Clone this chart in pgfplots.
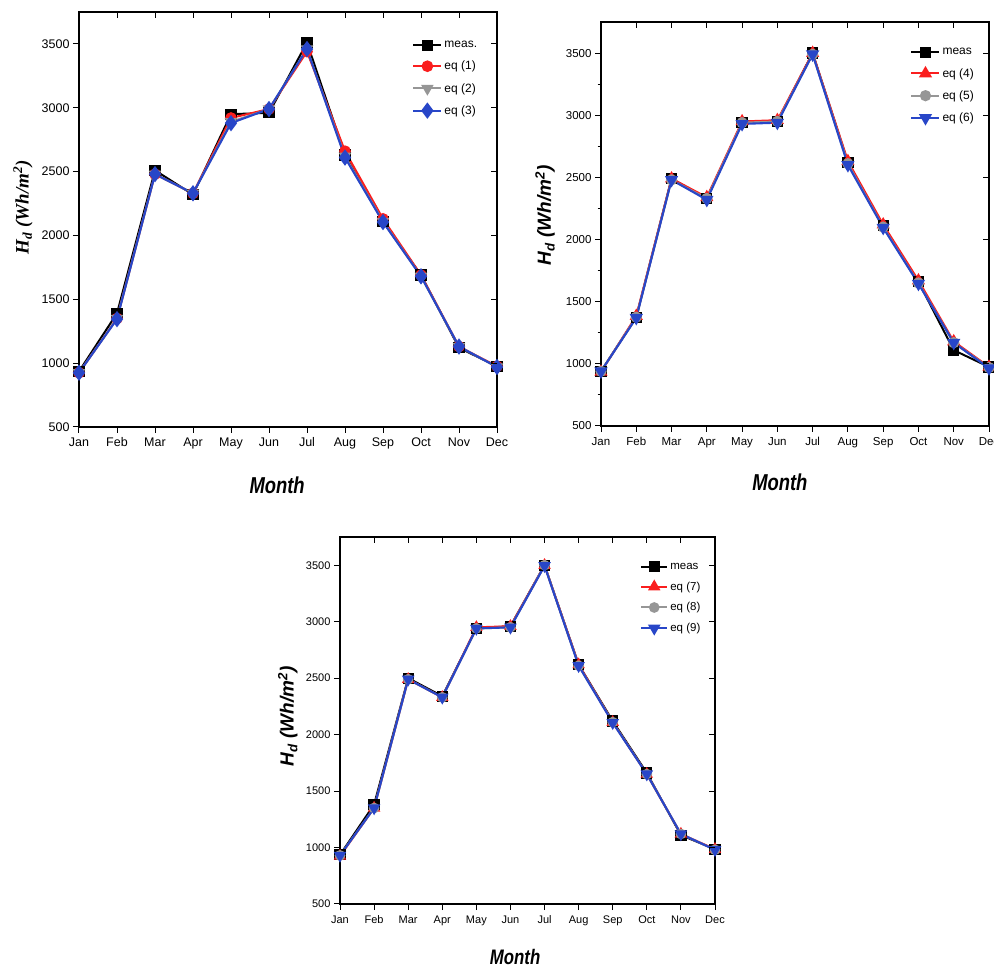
\documentclass[border=0pt]{standalone}
\usepackage{fontspec}
\setmainfont{Liberation Sans}
\newfontfamily\serifbi{Liberation Serif}
\newfontfamily\condsans[FakeStretch=0.8]{Liberation Sans}
\usepackage{pgfplots}
\pgfplotsset{compat=1.18}
\usepackage{pgfplotstable}
\definecolor{myred}{RGB}{250,30,30}
\definecolor{mygray}{RGB}{150,150,150}
\definecolor{myblue}{RGB}{40,70,200}

\pgfplotstableread{
m meas e1 e2 e3
0 935 925 925 925
1 1390 1350 1350 1345
2 2510 2480 2480 2480
3 2320 2330 2330 2330
4 2950 2920 2890 2880
5 2960 2990 2990 2990
6 3510 3440 3460 3460
7 2630 2660 2620 2610
8 2110 2130 2110 2105
9 1690 1690 1680 1680
10 1120 1130 1130 1130
11 975 975 970 970
}\tabA

\pgfplotstableread{
m meas e1 e2 e3
0 940 935 940 940
1 1375 1385 1375 1370
2 2490 2490 2480 2480
3 2330 2340 2330 2320
4 2940 2950 2940 2930
5 2950 2960 2950 2940
6 3500 3500 3490 3490
7 2620 2630 2610 2600
8 2110 2120 2100 2095
9 1660 1670 1650 1645
10 1110 1180 1170 1170
11 975 975 970 965
}\tabB

\pgfplotstableread{
m meas e1 e2 e3
0 935 925 930 930
1 1380 1350 1350 1350
2 2500 2490 2490 2490
3 2340 2330 2330 2330
4 2940 2950 2940 2940
5 2960 2960 2950 2950
6 3500 3500 3500 3495
7 2620 2620 2610 2610
8 2120 2110 2110 2105
9 1660 1650 1650 1650
10 1110 1120 1120 1120
11 985 985 980 980
}\tabC

\pgfplotsset{
  base/.style={
    scale only axis, anchor=south west,
    xmin=0, xmax=11, ymin=500, ymax=3750,
    xtick={0,...,11},
    xticklabels={Jan,Feb,Mar,Apr,May,Jun,Jul,Aug,Sep,Oct,Nov,Dec},
    ytick={500,1000,...,3500},
    /pgf/number format/assume math mode=true,
    /pgf/number format/1000 sep={},
    tick align=outside, tick pos=left,
    major tick length=6pt, minor tick length=3.5pt,
    axis line style={line width=1.1pt},
    major tick style={line width=1pt, black},
    minor tick style={line width=0.9pt, black},
    xticklabel style={anchor=north, text height=0.72em, text depth=0.22em, yshift=-3pt},
    clip=false,
    legend cell align=left,
    legend image code/.code={\draw[mark repeat=2,mark phase=2] plot coordinates {(0pt,0pt) (14pt,0pt) (28pt,0pt)};},
  },
  over/.style={
    scale only axis, anchor=south west,
    xmin=0, xmax=11, ymin=500, ymax=3750,
    xtick={0,...,11}, ytick={500,1000,...,3500},
    xticklabels={}, yticklabels={},
    tick align=inside, tick pos=right, major tick length=6pt,
    axis line style={draw=none},
    major tick style={line width=1pt, black},
  },
  smeas/.style={black, line width=2pt, mark=square*, mark size=4.6pt, mark options={solid}},
  sred/.style={myred, line width=2pt, mark options={solid}},
  sgray/.style={mygray, line width=2pt, mark options={solid}},
  sblue/.style={myblue, line width=2.1pt, mark options={solid}},
}

\begin{document}
\begin{tikzpicture}[x=1pt,y=1pt]
\path[use as bounding box] (0,0) rectangle (994,967);

% ---------- top left ----------
\begin{axis}[base, at={(79pt,540pt)}, width=418pt, height=415pt,
  ticklabel style={font=\fontsize{12.5}{12.5}\selectfont},
  xlabel={\condsans\bfseries\itshape Month},
  xlabel style={at={(axis description cs:0.474,-0.140)}, anchor=center, font=\fontsize{23}{23}\selectfont},
  ylabel={\serifbi\bfseries\itshape H\textsubscript{d} (Wh/m\textsuperscript{2})},
  ylabel style={at={(axis description cs:-0.134,0.53)}, anchor=center, font=\fontsize{19}{19}\selectfont},
  legend style={at={(0.797,0.935)}, anchor=north west, draw=none, fill=none,
    font=\fontsize{12}{12}\selectfont, row sep=8pt, inner sep=0pt},
]
\addplot[smeas] table[x=m,y=meas] {\tabA}; \addlegendentry{meas.}
\addplot[sred, mark=*, mark size=4.8pt] table[x=m,y=e1] {\tabA}; \addlegendentry{eq (1)}
\addplot[sgray, mark=triangle*, mark size=5.3pt, mark options={rotate=180}] table[x=m,y=e2] {\tabA}; \addlegendentry{eq (2)}
\addplot[sblue, mark=diamond*, mark size=6.5pt] table[x=m,y=e3] {\tabA}; \addlegendentry{eq (3)}
\end{axis}
\begin{axis}[over, at={(79pt,540pt)}, width=418pt, height=415pt]
\end{axis}

% ---------- top right ----------
\begin{axis}[base, at={(601pt,541pt)}, width=388pt, height=404pt,
  minor y tick num=1,
  ticklabel style={font=\fontsize{11.5}{11.5}\selectfont},
  xlabel={\condsans\bfseries\itshape Month},
  xlabel style={at={(axis description cs:0.461,-0.139)}, anchor=center, font=\fontsize{23}{23}\selectfont},
  ylabel={\bfseries\itshape H\textsubscript{d} (Wh/m\textsuperscript{2})},
  ylabel style={at={(axis description cs:-0.144,0.522)}, anchor=center, font=\fontsize{19}{19}\selectfont},
  legend style={at={(0.797,0.94)}, anchor=north west, draw=none, fill=none,
    font=\fontsize{12}{12}\selectfont, row sep=8pt, inner sep=0pt},
]
\addplot[smeas] table[x=m,y=meas] {\tabB}; \addlegendentry{meas}
\addplot[sred, mark=triangle*, mark size=5.6pt] table[x=m,y=e1] {\tabB}; \addlegendentry{eq (4)}
\addplot[sgray, mark=*, mark size=4.6pt] table[x=m,y=e2] {\tabB}; \addlegendentry{eq (5)}
\addplot[sblue, mark=triangle*, mark size=5.6pt, mark options={rotate=180}] table[x=m,y=e3] {\tabB}; \addlegendentry{eq (6)}
\end{axis}
\begin{axis}[over, at={(601pt,541pt)}, width=388pt, height=404pt]
\end{axis}

% ---------- bottom ----------
\begin{axis}[base, at={(340pt,63pt)}, width=375pt, height=367pt,
  ticklabel style={font=\fontsize{11}{11}\selectfont},
  xlabel={\condsans\bfseries\itshape Month},
  xlabel style={at={(axis description cs:0.467,-0.144)}, anchor=center, font=\fontsize{21}{21}\selectfont},
  ylabel={\bfseries\itshape H\textsubscript{d} (Wh/m\textsuperscript{2})},
  ylabel style={at={(axis description cs:-0.139,0.512)}, anchor=center, font=\fontsize{19}{19}\selectfont},
  legend style={at={(0.80,0.935)}, anchor=north west, draw=none, fill=none,
    font=\fontsize{11.5}{11.5}\selectfont, row sep=7pt, inner sep=0pt},
  legend image code/.code={\draw[mark repeat=2,mark phase=2] plot coordinates {(0pt,0pt) (13pt,0pt) (26pt,0pt)};},
]
\addplot[smeas] table[x=m,y=meas] {\tabC}; \addlegendentry{meas}
\addplot[sred, mark=triangle*, mark size=5.2pt] table[x=m,y=e1] {\tabC}; \addlegendentry{eq (7)}
\addplot[sgray, mark=*, mark size=4.3pt] table[x=m,y=e2] {\tabC}; \addlegendentry{eq (8)}
\addplot[sblue, mark=triangle*, mark size=5.2pt, mark options={rotate=180}] table[x=m,y=e3] {\tabC}; \addlegendentry{eq (9)}
\end{axis}
\begin{axis}[over, at={(340pt,63pt)}, width=375pt, height=367pt]
\end{axis}
\end{tikzpicture}
\end{document}
